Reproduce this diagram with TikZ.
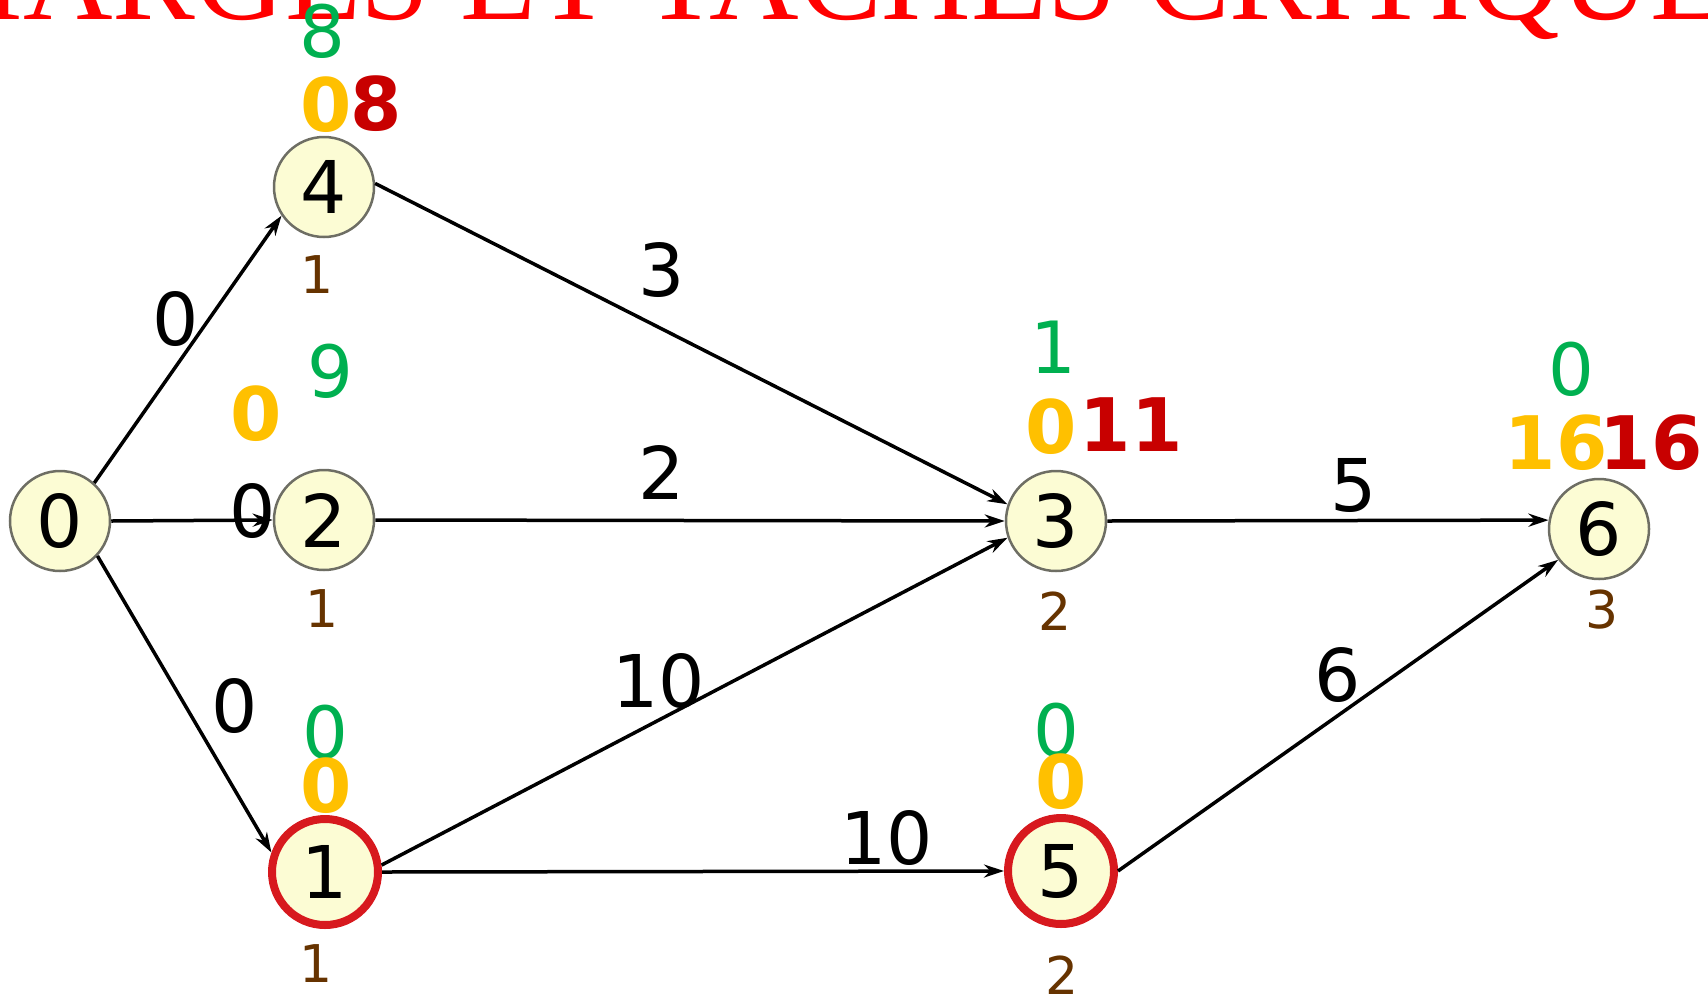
\documentclass[tikz,border=0pt]{standalone}
\usepackage{fontspec}
\setmainfont{DejaVu Sans}
\newfontfamily\titlefont{Liberation Serif}
\usetikzlibrary{arrows.meta}
\definecolor{cpFill}{RGB}{252,252,212}
\definecolor{cpEdge}{RGB}{110,110,100}
\definecolor{cpRing}{RGB}{215,25,30}
\definecolor{cpGreen}{RGB}{0,176,80}
\definecolor{cpOrange}{RGB}{255,192,0}
\definecolor{cpRed}{RGB}{200,0,0}
\definecolor{cpBrown}{RGB}{102,51,0}
\definecolor{cpTitle}{RGB}{255,0,0}
\tikzset{
    event/.style={circle, draw=cpEdge, line width=0.25mm, fill=cpFill, minimum size=10mm,
                  inner sep=0pt, font=\fontsize{20.7}{22}\selectfont},
    crit/.style={event, draw=cpRing, line width=0.8mm, minimum size=10.6mm},
    flow/.style={-{Stealth[length=2mm,width=1.3mm]}, line width=0.35mm, black},
    weight/.style={font=\fontsize{20.7}{22}\selectfont, inner sep=0pt},
    slack/.style={text=cpGreen, font=\fontsize{20.5}{22}\selectfont, inner sep=0pt},
    early/.style={text=cpOrange, font=\bfseries\fontsize{21}{22}\selectfont, inner sep=0pt},
    late/.style={early, text=cpRed},
    rank/.style={text=cpBrown, font=\fontsize{14.8}{16}\selectfont, inner sep=0pt}
}
\begin{document}
\begin{tikzpicture}[x=0.1mm, y=-0.1mm]
  \useasboundingbox (0,0) rectangle (1708,995);
  \clip (0,0) rectangle (1708,995);
  \node[anchor=base, inner sep=0pt, text=cpTitle, font=\titlefont\fontsize{35.3}{40}\selectfont] (title) at (854,20) {MARGES ET TACHES CRITIQUES};

  % events
  \node[event] (n0) at (60,521) {0};
  \node[event] (n4) at (324,187) {4};
  \node[event] (n2) at (324,520) {2};
  \node[crit] (n1) at (325,872) {1};
  \node[event] (n3) at (1056,521) {3};
  \node[crit] (n5) at (1061,871) {5};
  \node[event] (n6) at (1599,529) {6};

  % tasks
  \draw[flow] (n0.48) -- (n4.214);
  \draw[flow] (n0.east) -- (n2.west);
  \draw[flow] (n0.-43) -- (n1.160);
  \draw[flow] (n4.4) -- (n3.161);
  \draw[flow] (n2.east) -- (n3.west);
  \draw[flow] (n1.7) -- (n3.199);
  \draw[flow] (n1.east) -- (n5.west);
  \draw[flow] (n3.east) -- (n6.170);
  \draw[flow] (n5.east) -- (n6.217);

  \node[weight] (w04) at (176,319) {0};
  \node[weight] (w02) at (253,511) {0};
  \node[weight] (w01) at (235,706) {0};
  \node[weight] (w43) at (662,270) {3};
  \node[weight] (w23) at (662,472) {2};
  \node[weight] (w13) at (659,681) {10};
  \node[weight] (w15) at (887,838) {10};
  \node[weight] (w36) at (1354,485) {5};
  \node[weight] (w56) at (1338,675) {6};

  % dates, margins and ranks
  \node[slack] (s4) at (322,31) {8};
  \node[early] (e4) at (326,105) {0};
  \node[late] (l4) at (376,104) {8};
  \node[rank] (r4) at (317,275) {1};

  \node[slack] (s2) at (330,371) {9};
  \node[early] (e2) at (256,414) {0};
  \node[rank] (r2) at (322,609) {1};

  \node[slack] (s1) at (325,732) {0};
  \node[early] (e1) at (326,786) {0};
  \node[rank] (r1) at (316,964) {1};

  \node[slack] (s3) at (1053,347) {1};
  \node[early] (e3) at (1051,427) {0};
  \node[late] (l3) at (1131,425) {11};
  \node[rank] (r3) at (1055,611) {2};

  \node[slack] (s5) at (1056,730) {0};
  \node[early] (e5) at (1061,782) {0};
  \node[rank] (r5) at (1062,975) {2};

  \node[slack] (s6) at (1571,369) {0};
  \node[early] (e6) at (1556,443) {16};
  \node[late] (l6) at (1651,443) {16};
  \node[rank] (r6) at (1602,610) {3};
\end{tikzpicture}
\end{document}
